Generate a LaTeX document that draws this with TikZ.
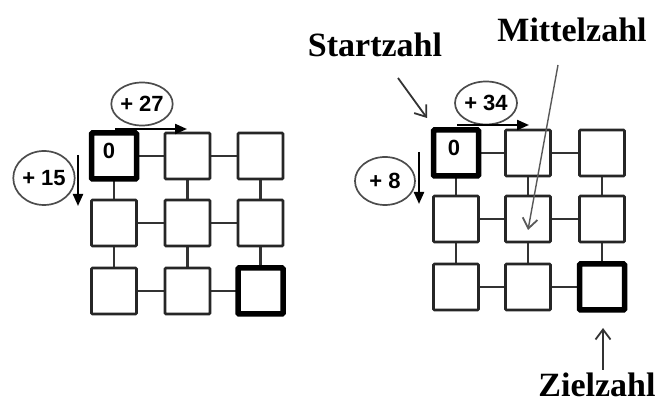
\documentclass[tikz,border=0pt]{standalone}
\usepackage{fontspec}
\setmainfont{Liberation Serif}
\newfontfamily\numfont{Liberation Sans}
\usetikzlibrary{shapes.geometric,arrows.meta}
\begin{document}
\begin{tikzpicture}[x=1pt,y=-1pt,
  cell/.style={draw=black!85,line width=2.6pt,fill=white,minimum width=45pt,minimum height=46pt,inner sep=0pt,rounded corners=1pt},
  thickcell/.style={cell,draw=black,line width=5.5pt},
  link/.style={draw=black!80,line width=2.6pt},
  bubble/.style={ellipse,draw=black!70,line width=1.7pt,inner sep=0pt,font=\numfont\bfseries\fontsize{22}{22}\selectfont},
  steparrow/.style={draw=black,line width=2.2pt,-{Triangle[length=12pt,width=10pt]}},
  label/.style={font=\bfseries\fontsize{34}{34}\selectfont,inner sep=0pt},
  pointer/.style={draw=black!80,line width=1.8pt,-{Straight Barb[length=10pt,width=15pt,line width=1.8pt]}},
  zero/.style={font=\numfont\bfseries\fontsize{22}{22}\selectfont}
]
\useasboundingbox (0,0) rectangle (659,403);
% left grid
\foreach \r/\y in {1/156,2/223,3/291}{
  \foreach \c/\x in {1/114,2/187.5,3/260.5}{
    \coordinate (lp\r\c) at (\x,\y);
  }
}
\foreach \r/\y in {1/153,2/219,3/287}{
  \foreach \c/\x in {1/456,2/528,3/602}{
    \coordinate (rp\r\c) at (\x,\y);
  }
}
% connectors
\foreach \g in {l,r}{
  \foreach \r in {1,2,3}{
    \draw[link] (\g p\r1) -- (\g p\r2) -- (\g p\r3);
    \draw[link] (\g p1\r) -- (\g p2\r) -- (\g p3\r);
  }
}
% boxes
\foreach \g in {l,r}{
  \foreach \r in {1,2,3}{
    \foreach \c in {1,2,3}{
      \node[cell] (\g\r\c) at (\g p\r\c) {};
    }
  }
  \node[thickcell] (\g11) at (\g p11) {};
  \node[thickcell] (\g33) at (\g p33) {};
}
\node[zero] (lzero) at (109,151) {0};
\node[zero] (rzero) at (454,148) {0};
% bubbles left
\node[bubble,minimum width=60pt,minimum height=43pt] (b27) at (142,104) {+ 27};
\node[bubble,minimum width=57pt,minimum height=54pt] (b15) at (44,178) {+ 15};
\coordinate (a27s) at (115,129); \coordinate (a27e) at (187,129);
\coordinate (a15s) at (78,155); \coordinate (a15e) at (78,206);
\draw[steparrow] (a27s) -- (a27e);
\draw[steparrow] (a15s) -- (a15e);
% bubbles right
\node[bubble,minimum width=62pt,minimum height=43pt] (b34) at (486,103) {+ 34};
\node[bubble,minimum width=60pt,minimum height=48pt] (b8) at (385,181) {+ 8};
\coordinate (a34s) at (457,125); \coordinate (a34e) at (529,125);
\coordinate (a8s) at (419,152); \coordinate (a8e) at (419,204);
\draw[steparrow] (a34s) -- (a34e);
\draw[steparrow] (a8s) -- (a8e);
% labels
\node[label,anchor=base] (start) at (375,57) {Startzahl};
\node[label,anchor=base] (mitte) at (572,42) {Mittelzahl};
\node[label,anchor=base] (ziel) at (597,397) {Zielzahl};
\coordinate (ps) at (398,78); \coordinate (pe) at (427,118);
\draw[pointer] (ps) -- (pe);
\coordinate (ms) at (558,65); \coordinate (me) at (528,230);
\draw[pointer,draw=black!65,line width=1.4pt] (ms) -- (me);
\coordinate (zs) at (603,370); \coordinate (ze) at (603,328);
\draw[pointer] (zs) -- (ze);
\end{tikzpicture}
\end{document}
